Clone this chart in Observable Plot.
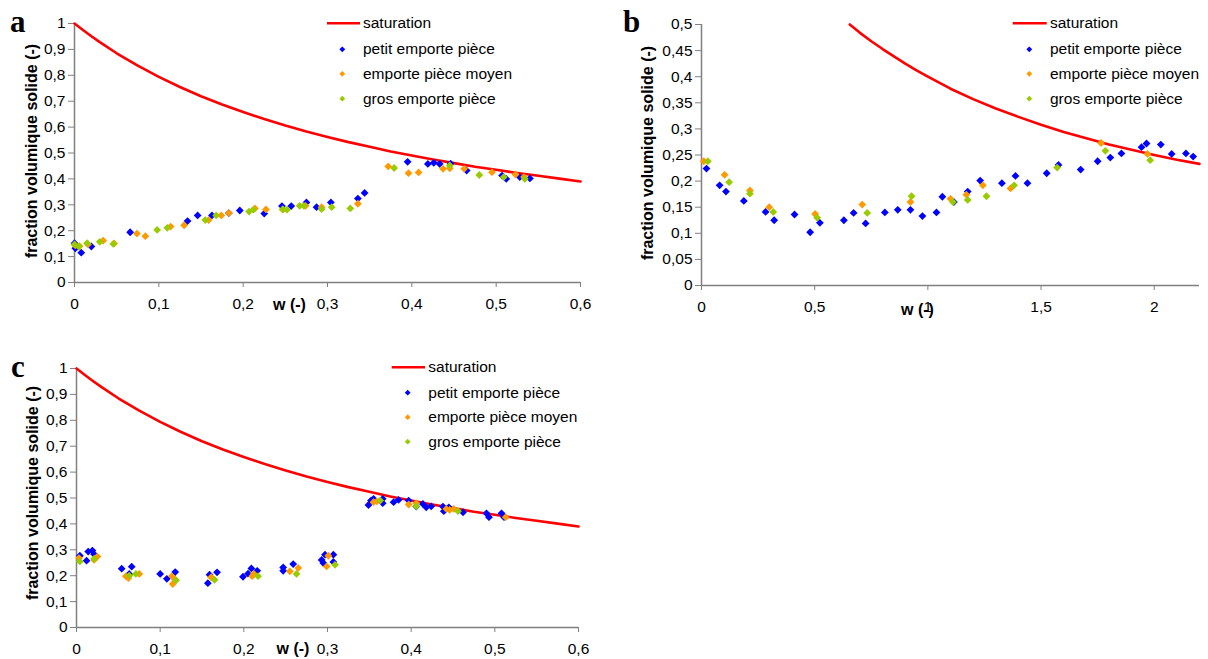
<!DOCTYPE html>
<html><head><meta charset="utf-8">
<script src="https://cdn.jsdelivr.net/npm/d3@7"></script>
<script src="https://cdn.jsdelivr.net/npm/@observablehq/plot@0.6"></script>
<style>
body{margin:0;background:#fff;}
#wrap{position:relative;width:1208px;height:659px;overflow:hidden;font-family:"Liberation Sans",Arial,sans-serif;}
#wrap svg g[aria-label$="axis tick"]{stroke:#808080;}
#wrap svg .tick line{stroke:#808080;}
</style></head><body><div id="wrap"></div>
<script>
// ---------- data (w, fraction volumique solide) ----------
const seriesNames = ["saturation", "petit emporte pièce", "emporte pièce moyen", "gros emporte pièce"];
const seriesColors = ["#ff0000", "#0000ff", "#ff9900", "#99cc00"];

// saturation curve, panels a and c
const satAC = [[0,1.0],[0.01,0.975],[0.02,0.951],[0.03,0.928],[0.05,0.885],[0.075,0.837],[0.1,0.794],[0.125,0.755],[0.15,0.719],[0.175,0.687],[0.2,0.658],[0.225,0.631],[0.25,0.606],[0.275,0.583],[0.3,0.562],[0.325,0.542],[0.35,0.524],[0.375,0.506],[0.4,0.490],[0.425,0.475],[0.45,0.461],[0.475,0.447],[0.5,0.435],[0.525,0.423],[0.55,0.412],[0.575,0.401],[0.6,0.390]];
// saturation curve, panel b
const satB = [[0.655,0.5],[0.7,0.484],[0.75,0.468],[0.8,0.453],[0.85,0.439],[0.9,0.425],[0.95,0.412],[1.0,0.400],[1.1,0.377],[1.2,0.357],[1.3,0.339],[1.4,0.323],[1.5,0.308],[1.6,0.294],[1.7,0.282],[1.8,0.270],[1.9,0.260],[2.0,0.250],[2.1,0.241],[2.2,0.233]];

// panel a
const aPetit = [[0,0.152],[0.001,0.132],[0.008,0.115],[0.020,0.139],[0.066,0.194],[0.134,0.237],[0.146,0.259],[0.163,0.259],[0.183,0.268],[0.196,0.278],[0.225,0.266],[0.246,0.295],[0.257,0.295],[0.275,0.309],[0.287,0.291],[0.304,0.309],[0.336,0.324],[0.344,0.346],[0.395,0.466],[0.419,0.458],[0.426,0.462],[0.433,0.458],[0.446,0.459],[0.465,0.432],[0.507,0.413],[0.512,0.400],[0.528,0.407],[0.540,0.402]];
const aMoyen = [[0.001,0.143],[0.006,0.140],[0.016,0.147],[0.034,0.162],[0.047,0.151],[0.074,0.189],[0.084,0.179],[0.114,0.216],[0.130,0.221],[0.159,0.241],[0.174,0.259],[0.183,0.268],[0.214,0.286],[0.227,0.282],[0.247,0.281],[0.274,0.296],[0.293,0.291],[0.336,0.304],[0.372,0.448],[0.396,0.422],[0.408,0.425],[0.437,0.439],[0.445,0.441],[0.462,0.439],[0.495,0.426],[0.523,0.417],[0.533,0.407]];
const aGros = [[0,0.147],[0.005,0.139],[0.015,0.152],[0.030,0.157],[0.046,0.149],[0.098,0.203],[0.110,0.211],[0.155,0.241],[0.168,0.259],[0.207,0.274],[0.212,0.281],[0.247,0.283],[0.252,0.281],[0.267,0.296],[0.272,0.296],[0.293,0.283],[0.305,0.291],[0.327,0.286],[0.379,0.442],[0.445,0.452],[0.480,0.415],[0.509,0.407],[0.534,0.400]];

// panel b
const bPetit = [[0.022,0.224],[0.080,0.192],[0.108,0.180],[0.187,0.162],[0.283,0.141],[0.321,0.125],[0.411,0.136],[0.480,0.102],[0.523,0.120],[0.629,0.125],[0.672,0.139],[0.725,0.119],[0.810,0.140],[0.867,0.145],[0.923,0.145],[0.976,0.133],[1.038,0.140],[1.064,0.170],[1.115,0.160],[1.176,0.180],[1.231,0.201],[1.327,0.196],[1.387,0.210],[1.440,0.196],[1.525,0.215],[1.577,0.231],[1.675,0.222],[1.750,0.238],[1.806,0.245],[1.855,0.253],[1.944,0.265],[1.966,0.272],[2.029,0.270],[2.077,0.252],[2.140,0.253],[2.172,0.247]];
const bMoyen = [[0.010,0.238],[0.102,0.212],[0.214,0.182],[0.299,0.150],[0.502,0.137],[0.710,0.155],[0.923,0.160],[1.100,0.166],[1.170,0.174],[1.243,0.192],[1.365,0.186],[1.765,0.273],[1.970,0.252]];
const bGros = [[0.028,0.238],[0.122,0.198],[0.214,0.176],[0.317,0.141],[0.511,0.130],[0.732,0.139],[0.928,0.171],[1.111,0.160],[1.176,0.164],[1.259,0.171],[1.381,0.192],[1.571,0.226],[1.784,0.258],[1.982,0.240]];

// panel c
const cPetit = [[0.004,0.277],[0.012,0.258],[0.014,0.293],[0.019,0.297],[0.021,0.283],[0.054,0.227],[0.063,0.207],[0.066,0.235],[0.100,0.207],[0.108,0.188],[0.118,0.214],[0.157,0.171],[0.159,0.204],[0.168,0.213],[0.199,0.196],[0.205,0.208],[0.209,0.228],[0.216,0.219],[0.247,0.232],[0.247,0.219],[0.259,0.245],[0.293,0.261],[0.297,0.281],[0.295,0.249],[0.307,0.281],[0.307,0.253],[0.349,0.473],[0.352,0.490],[0.355,0.497],[0.366,0.480],[0.366,0.497],[0.379,0.484],[0.385,0.493],[0.397,0.490],[0.406,0.467],[0.414,0.477],[0.418,0.464],[0.424,0.468],[0.438,0.467],[0.439,0.449],[0.445,0.464],[0.462,0.445],[0.490,0.441],[0.493,0.426],[0.508,0.441],[0.511,0.426]];
const cMoyen = [[0.003,0.268],[0.021,0.261],[0.025,0.274],[0.059,0.198],[0.062,0.191],[0.075,0.207],[0.114,0.198],[0.115,0.168],[0.118,0.185],[0.161,0.194],[0.210,0.198],[0.212,0.207],[0.255,0.217],[0.265,0.230],[0.299,0.236],[0.301,0.277],[0.355,0.484],[0.359,0.487],[0.397,0.475],[0.406,0.480],[0.442,0.458],[0.446,0.454],[0.451,0.458],[0.513,0.426]];
const cGros = [[0.004,0.255],[0.021,0.265],[0.063,0.200],[0.071,0.207],[0.119,0.182],[0.165,0.184],[0.217,0.198],[0.263,0.207],[0.309,0.242],[0.363,0.490],[0.406,0.468],[0.456,0.449]];

// tick values
const xTicksAC = [0,0.1,0.2,0.3,0.4,0.5,0.6];
const yTicksAC = [0,0.1,0.2,0.3,0.4,0.5,0.6,0.7,0.8,0.9,1];
const xTicksB = [0,0.5,1,1.5,2];
const yTicksB = [0,0.05,0.1,0.15,0.2,0.25,0.3,0.35,0.4,0.45,0.5];

const yTitle = "fraction volumique solide (-)";
const xTitle = "w (-)";
const panelLetters = ["a", "b", "c"];

// ---------- drawing ----------
const fmt = d => String(Math.round(d * 100) / 100).replace(".", ",");
const diamond = {draw(ctx, size) {const r = Math.sqrt(size / Math.PI); ctx.moveTo(0, -r); ctx.lineTo(r, 0); ctx.lineTo(0, r); ctx.lineTo(-r, 0); ctx.closePath();}};
const wrap = document.getElementById("wrap");

function panel(o) {
  const p = Plot.plot({
    width: o.width, height: o.height,
    marginLeft: o.ml, marginRight: o.mr, marginTop: o.mt, marginBottom: o.mb,
    style: {fontSize: "15.5px", fontFamily: "'Liberation Sans', Arial, sans-serif", color: "black", background: "transparent", overflow: "visible"},
    x: {domain: o.xDomain, ticks: o.xTicks, tickFormat: fmt, tickSize: 5, tickPadding: 10, label: null},
    y: {domain: o.yDomain, ticks: o.yTicks, tickFormat: fmt, tickSize: 6, tickPadding: 3, label: null},
    marks: [
      Plot.ruleY([o.yDomain[0]], {stroke: "#808080", strokeWidth: 1.5}),
      Plot.ruleX([o.xDomain[0]], {stroke: "#808080", strokeWidth: 1.5}),
      Plot.line(o.sat, {x: d => d[0], y: d => d[1], stroke: seriesColors[0], strokeWidth: 2.6}),
      Plot.dot(o.petit, {x: d => d[0], y: d => d[1], symbol: diamond, r: 3.9, fill: seriesColors[1]}),
      Plot.dot(o.moyen, {x: d => d[0], y: d => d[1], symbol: diamond, r: 3.9, fill: seriesColors[2]}),
      Plot.dot(o.gros, {x: d => d[0], y: d => d[1], symbol: diamond, r: 3.9, fill: seriesColors[3]}),
      Plot.text([yTitle], {frameAnchor: "left", dx: o.ytdx, dy: o.ytdy, rotate: -90, fontWeight: "bold", fontSize: 16, fill: "black", textAnchor: "middle"}),
      Plot.text([xTitle], {frameAnchor: "bottom-left", dx: o.xtdx, dy: o.xtdy, fontWeight: "bold", fontSize: 16, fill: "black", textAnchor: "middle", lineAnchor: "middle"})
    ]
  });
  p.style.position = "absolute";
  p.style.left = o.left + "px";
  p.style.top = o.top + "px";
  wrap.appendChild(p);
}

panel({left: 0, top: 0, width: 600, height: 320, ml: 74, mr: 20, mt: 23, mb: 38,
  xDomain: [0, 0.6], xTicks: xTicksAC, yDomain: [0, 1], yTicks: yTicksAC,
  sat: satAC, petit: aPetit, moyen: aMoyen, gros: aGros,
  ytdx: -43, ytdy: -2, xtdx: 215, xtdy: 22});
panel({left: 620, top: 0, width: 588, height: 320, ml: 81, mr: 9, mt: 24, mb: 35,
  xDomain: [0, 2.2], xTicks: xTicksB, yDomain: [0, 0.5], yTicks: yTicksB,
  sat: satB, petit: bPetit, moyen: bMoyen, gros: bGros,
  ytdx: -54, ytdy: -2, xtdx: 216, xtdy: 24});
panel({left: 0, top: 340, width: 600, height: 319, ml: 76, mr: 22, mt: 28, mb: 32,
  xDomain: [0, 0.6], xTicks: xTicksAC, yDomain: [0, 1], yTicks: yTicksAC,
  sat: satAC, petit: cPetit, moyen: cMoyen, gros: cGros,
  ytdx: -44, ytdy: -5, xtdx: 216.5, xtdy: 21});

// overlay: panel letters and legends
const ov = d3.select(wrap).append("svg").attr("width", 1208).attr("height", 659)
  .style("position", "absolute").style("left", 0).style("top", 0).style("pointer-events", "none");
const letterPos = [[10, 32], [623, 32], [11, 377]];
panelLetters.forEach((t, i) => ov.append("text").attr("x", letterPos[i][0]).attr("y", letterPos[i][1])
  .attr("font-family", "'Liberation Serif', 'Times New Roman', serif").attr("font-weight", "bold").attr("font-size", 31).text(t));

const legendPos = [
  {lx1: 327, lx2: 360, mx: 342.3, tx: 363, ys: [23.3, 49.3, 73.8, 98.7]},
  {lx1: 1012.7, lx2: 1046.7, mx: 1029.3, tx: 1050, ys: [23.3, 49.3, 73.8, 98.7]},
  {lx1: 391.7, lx2: 425, mx: 407.7, tx: 428.3, ys: [367.3, 392.7, 417.2, 441.7]}
];
const smallDiamond = d3.symbol(diamond, 2.9 * 2.9 * Math.PI)();
legendPos.forEach(L => {
  ov.append("line").attr("x1", L.lx1).attr("x2", L.lx2).attr("y1", L.ys[0]).attr("y2", L.ys[0])
    .attr("stroke", seriesColors[0]).attr("stroke-width", 2.6);
  for (let k = 1; k < 4; k++) {
    ov.append("path").attr("d", smallDiamond).attr("transform", `translate(${L.mx},${L.ys[k]})`).attr("fill", seriesColors[k]);
  }
  seriesNames.forEach((n, k) => ov.append("text").attr("x", L.tx).attr("y", L.ys[k] + 5)
    .attr("font-family", "'Liberation Sans', Arial, sans-serif").attr("font-size", 15.5).attr("fill", "black").text(n));
});
</script>
</body></html>
